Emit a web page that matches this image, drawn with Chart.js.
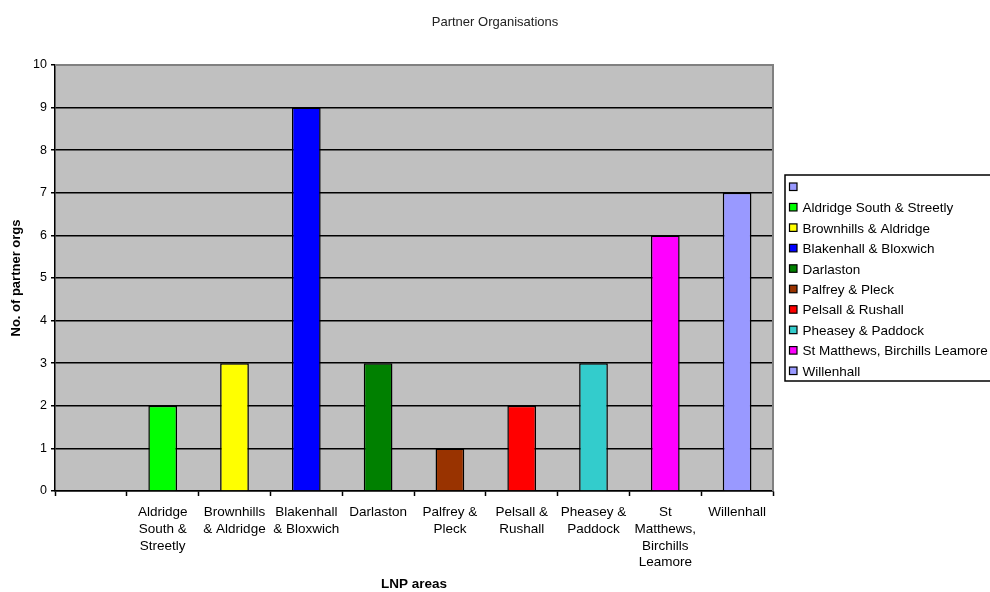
<!DOCTYPE html>
<html>
<head>
<meta charset="utf-8">
<script src="https://cdn.jsdelivr.net/npm/chart.js@4.4.1/dist/chart.umd.min.js"></script>
<style>
  html, body { margin: 0; padding: 0; background: #fff; overflow: hidden; }
  #wrap { width: 990px; height: 592px; position: relative; }
</style>
</head>
<body>
<div id="wrap"><canvas id="myChart"></canvas></div>
<script>
// LNP areas (first one is an empty category in the original sheet)
var areas = ['', 'Aldridge South & Streetly', 'Brownhills & Aldridge', 'Blakenhall & Bloxwich',
    'Darlaston', 'Palfrey & Pleck', 'Pelsall & Rushall', 'Pheasey & Paddock',
    'St Matthews, Birchills Leamore', 'Willenhall'];

// how the names wrap under the x axis
var tickLabels = ['', ['Aldridge', 'South &', 'Streetly'], ['Brownhills', '& Aldridge'], ['Blakenhall', '& Bloxwich'],
    'Darlaston', ['Palfrey &', 'Pleck'], ['Pelsall &', 'Rushall'], ['Pheasey &', 'Paddock'],
    ['St', 'Matthews,', 'Birchills', 'Leamore'], 'Willenhall'];

var partnerOrgs = [0, 2, 3, 9, 3, 1, 2, 3, 6, 7];

var barColours = ['#9999FF', '#00FF00', '#FFFF00', '#0000FF', '#008000',
    '#993300', '#FF0000', '#33CCCC', '#FF00FF', '#9999FF'];

var yTicks = [0, 1, 2, 3, 4, 5, 6, 7, 8, 9, 10];

var chartTitle = 'Partner Organisations';

var FONT = 'Arial, "Liberation Sans", sans-serif';

// grey plot area with the darker frame, plus the title over the whole picture
var plotBack = {
    id: 'plotBack',
    beforeDraw: function(chart) {
        var a = chart.chartArea, ctx = chart.ctx;
        ctx.save();
        ctx.fillStyle = '#C0C0C0';
        ctx.fillRect(a.left, a.top, a.right - a.left, a.bottom - a.top);
        ctx.fillStyle = '#222';
        ctx.font = '13px ' + FONT;
        ctx.textAlign = 'center';
        ctx.textBaseline = 'middle';
        ctx.fillText(chartTitle, chart.width / 2, 22);
        ctx.restore();
    },
    afterDatasetsDraw: function(chart) {
        var a = chart.chartArea, ctx = chart.ctx;
        ctx.save();
        ctx.strokeStyle = '#808080';
        ctx.lineWidth = 2;
        ctx.beginPath();
        ctx.moveTo(a.left, a.top);
        ctx.lineTo(a.right, a.top);
        ctx.lineTo(a.right, a.bottom);
        ctx.stroke();
        ctx.restore();
    }
};

// legend box on the right, runs off the edge like the original
var boxLegend = {
    id: 'boxLegend',
    afterDraw: function(chart) {
        var ctx = chart.ctx;
        var x = 785, y = 175, w = 240, h = 206, step = 20.45;
        ctx.save();
        ctx.fillStyle = '#fff';
        ctx.fillRect(x, y, w, h);
        ctx.strokeStyle = '#000';
        ctx.lineWidth = 1.5;
        ctx.strokeRect(x, y, w, h);
        ctx.font = '13.5px ' + FONT;
        ctx.textBaseline = 'middle';
        for (var i = 0; i < areas.length; i++) {
            var cy = y + 12 + i * step;
            ctx.fillStyle = barColours[i];
            ctx.fillRect(x + 4.5, cy - 4, 7.5, 7.5);
            ctx.lineWidth = 1.2;
            ctx.strokeRect(x + 4.5, cy - 4, 7.5, 7.5);
            ctx.fillStyle = '#000';
            ctx.fillText(areas[i], x + 17.5, cy + 1);
        }
        ctx.restore();
    }
};

var data = {
    labels: tickLabels,
    datasets: [{
        label: chartTitle,
        data: partnerOrgs,
        backgroundColor: barColours,
        borderColor: '#000',
        borderWidth: 1.5,
        barPercentage: 0.4,
        categoryPercentage: 1
    }]
};

var ctx = document.getElementById('myChart').getContext('2d');
var myChart = new Chart(ctx, {
    type: 'bar',
    data: data,
    plugins: [plotBack, boxLegend],
    options: {
        responsive: true,
        maintainAspectRatio: false,
        animation: false,
        layout: { padding: { left: 0, right: 217, top: 65, bottom: 0 } },
        plugins: {
            legend: { display: false },
            tooltip: { enabled: false },
            title: { display: false }
        },
        scales: {
            x: {
                grid: {
                    offset: true,
                    drawOnChartArea: false,
                    drawTicks: true,
                    tickLength: 5,
                    tickColor: '#000',
                    tickWidth: 1.5
                },
                border: { color: '#000', width: 1.5 },
                ticks: {
                    color: '#000',
                    font: { family: FONT, size: 13.5, lineHeight: 1.24 },
                    maxRotation: 0,
                    autoSkip: false,
                    padding: 8
                },
                title: {
                    display: true,
                    text: 'LNP areas',
                    color: '#000',
                    font: { family: FONT, size: 13.5, weight: 'bold' },
                    padding: { top: 0, bottom: 0 }
                },
                afterFit: function(scale) { scale.height = 101; }
            },
            y: {
                min: 0,
                max: 10,
                afterBuildTicks: function(scale) {
                    scale.ticks = yTicks.map(function(v) { return { value: v }; });
                },
                grid: {
                    color: '#000',
                    lineWidth: 1.5,
                    drawTicks: true,
                    tickLength: 4,
                    tickColor: '#000'
                },
                border: { color: '#000', width: 1.5 },
                ticks: {
                    color: '#000',
                    font: { family: FONT, size: 12.5 },
                    padding: 4
                },
                title: {
                    display: true,
                    text: 'No. of partner orgs',
                    color: '#000',
                    font: { family: FONT, size: 13, weight: 'bold' },
                    padding: { top: 9, bottom: 0 }
                },
                afterFit: function(scale) { scale.width = 55; }
            }
        }
    }
});
</script>
</body>
</html>
